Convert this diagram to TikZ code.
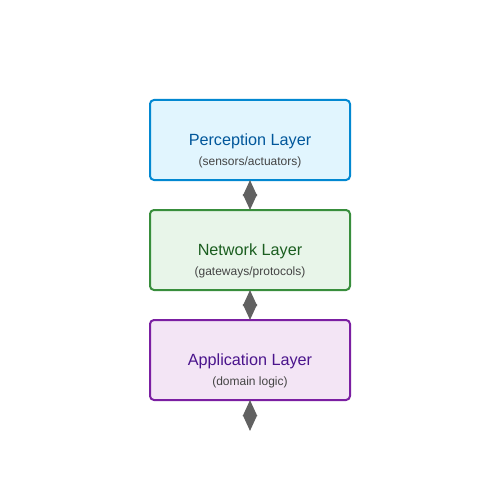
\documentclass[tikz,border=0pt]{standalone}
\usepackage{fontspec}
\setmainfont{Liberation Sans}
\usetikzlibrary{arrows.meta}
\definecolor{pfill}{HTML}{E1F5FE}\definecolor{pdraw}{HTML}{0288D1}\definecolor{ptext}{HTML}{01579B}
\definecolor{nfill}{HTML}{E8F5E9}\definecolor{ndraw}{HTML}{388E3C}\definecolor{ntext}{HTML}{1B5E20}
\definecolor{afill}{HTML}{F3E5F5}\definecolor{adraw}{HTML}{7B1FA2}\definecolor{atext}{HTML}{4A148C}
\definecolor{subtext}{HTML}{444444}\definecolor{arrowc}{HTML}{616161}
\begin{document}
\begin{tikzpicture}[x=1pt,y=-1pt,
  layerbox/.style={draw,line width=2pt,rounded corners=4pt,minimum width=200pt,minimum height=80pt,inner sep=0pt},
  ttl/.style={font=\fontsize{16.2}{19}\selectfont},
  sub/.style={font=\fontsize{12}{14}\selectfont,text=subtext},
  link/.style={arrowc,line width=2pt,shorten <=-1pt,shorten >=-1pt,{Stealth[length=16pt,width=14pt,inset=0pt]}-{Stealth[length=16pt,width=14pt,inset=0pt]}}]
\useasboundingbox (0,0) rectangle (500,500);
\node[layerbox,draw=pdraw,fill=pfill] (p) at (250,140) {};
\node[ttl,text=ptext] (pt) at (250,141) {Perception Layer};
\node[sub] (ps) at (250,162) {(sensors/actuators)};
\node[layerbox,draw=ndraw,fill=nfill] (n) at (250,250) {};
\node[ttl,text=ntext] (nt) at (250,251) {Network Layer};
\node[sub] (ns) at (250,272) {(gateways/protocols)};
\node[layerbox,draw=adraw,fill=afill] (a) at (250,360) {};
\node[ttl,text=atext] (at) at (250,361) {Application Layer};
\node[sub] (as) at (250,382) {(domain logic)};
\coordinate (end) at (250,430);
\draw[link] (p.south) -- (n.north);
\draw[link] (n.south) -- (a.north);
\draw[link] (a.south) -- (end);
\end{tikzpicture}
\end{document}
